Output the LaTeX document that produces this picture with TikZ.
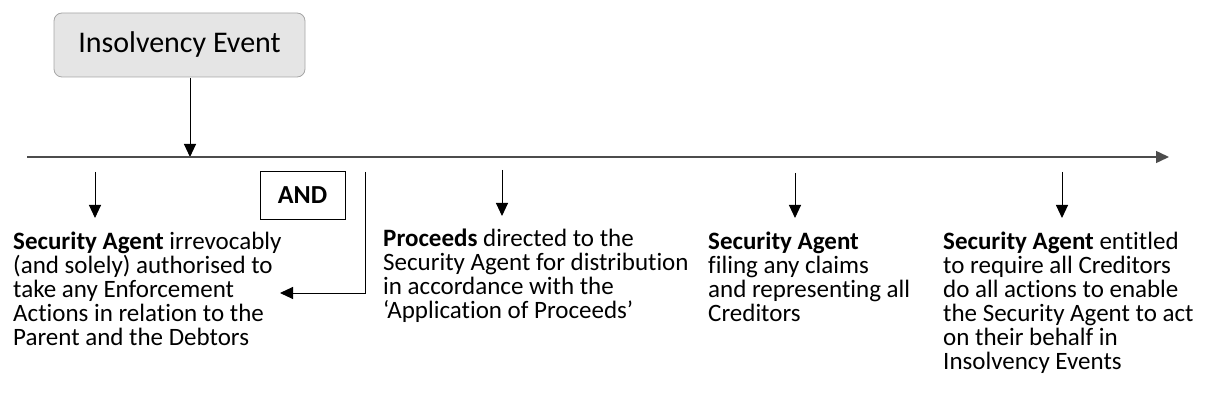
\documentclass[tikz,border=0pt]{standalone}
\usepackage{fontspec}
\setmainfont{Carlito}[RawFeature=-liga]
\usetikzlibrary{arrows.meta}
\begin{document}
\begin{tikzpicture}[x=1pt,y=-1pt,
  tip/.tip={Triangle[length=13pt,width=12pt]},
  axis/.style={draw=black!70, line width=1.4pt, -tip},
  down/.style={draw=black, line width=1pt, -tip},
  eventbox/.style={draw=black!35, fill=black!10, rounded corners=8pt, line width=0.8pt,
    minimum width=251pt, minimum height=64pt, font=\fontsize{30}{36}\selectfont},
  andbox/.style={draw=black, line width=1pt, minimum width=85pt, minimum height=48pt,
    font=\bfseries\fontsize{26}{30}\selectfont},
  % base anchor of a multi-line node sits on its last line
  desc/.style={anchor=base west, inner sep=0pt, align=left,
    font=\fontsize{25}{24}\selectfont}]
\useasboundingbox (0,0) rectangle (1209,403);

% trigger box and its arrow onto the time line
\node[eventbox] (ev) at (179.5,45) {Insolvency Event};
\coordinate (evhit) at (190,157);
\draw[down] (190,78) -- (evhit);

% time line
\coordinate (tl0) at (27,157);
\coordinate (tl1) at (1169,157);
\draw[axis] (tl0) -- (tl1);

% consequences
\node[desc] (d1) at (13,345) {\textbf{Security Agent} irrevocably\\(and solely) authorised to\\take any Enforcement\\Actions in relation to the\\Parent and the Debtors};
\node[desc] (d2) at (383,318) {\textbf{Proceeds} directed to the\\Security Agent for distribution\\in accordance with the\\‘Application of Proceeds’};
\node[desc] (d3) at (708,321) {\textbf{Security Agent}\\filing any claims\\and representing all\\Creditors};
\node[desc] (d4) at (943,369) {\textbf{Security Agent} entitled\\to require all Creditors\\do all actions to enable\\the Security Agent to act\\on their behalf in\\Insolvency Events};

\coordinate (a1) at (95,172);
\coordinate (a2) at (502,170);
\coordinate (a3) at (795,173);
\coordinate (a4) at (1062,172);
\draw[down] (a1) -- (95,218);
\draw[down] (a2) -- (502,216);
\draw[down] (a3) -- (795,218);
\draw[down] (a4) -- (1062,218);

% AND link back into the first consequence
\node[andbox] (and) at (302.5,195.5) {AND};
\coordinate (elb) at (365,172);
\draw[down] (elb) -- (365,293) -- (280,293);
\end{tikzpicture}
\end{document}
